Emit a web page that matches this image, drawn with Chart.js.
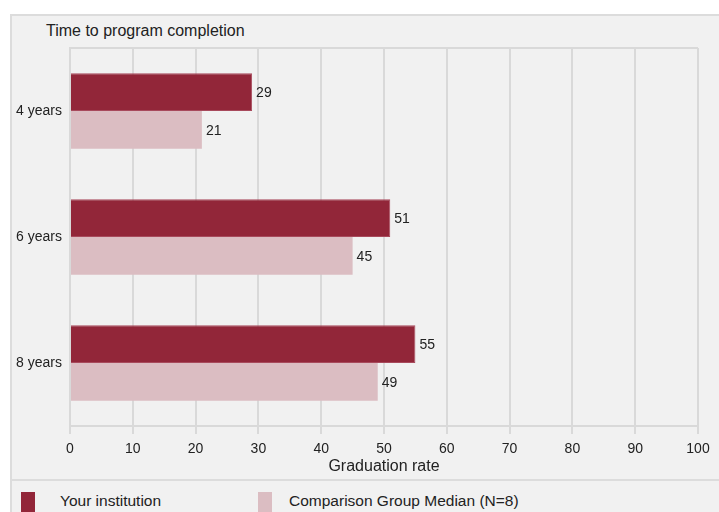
<!DOCTYPE html>
<html>
<head>
<meta charset="utf-8">
<script src="https://cdn.jsdelivr.net/npm/chart.js@4"></script>
<style>
  body { margin: 0; background: #fff; width: 719px; height: 512px; overflow: hidden; position: relative; font-family: "Liberation Sans", Arial, sans-serif; }
  #panel { position: absolute; left: 10px; top: 14px; width: 720px; height: 510px; background: #f1f1f1; border-left: 2px solid #dcdcdc; border-top: 2px solid #dcdcdc; }
  #sep { position: absolute; left: 10px; top: 479px; width: 720px; height: 2px; background: #dcdcdc; }
  #title { position: absolute; left: 46px; top: 22px; font-size: 16px; color: #222; }
  #chart-box { position: absolute; left: 0; top: 0; width: 719px; height: 480px; }
  .legend-item { position: absolute; top: 492px; font-family: "Liberation Sans Narrow", "Liberation Sans", Arial, sans-serif; font-size: 15.5px; color: #222; }
  .swatch { position: absolute; width: 14px; height: 22px; }
</style>
</head>
<body>
<div id="panel"></div>
<div id="sep"></div>
<div id="title">Time to program completion</div>
<div id="chart-box"><canvas id="chart" width="719" height="480"></canvas></div>
<div class="swatch" style="left:21px; top:492px; background:#922639;"></div>
<div class="legend-item" style="left:60px;">Your institution</div>
<div class="swatch" style="left:258px; top:492px; background:#dbbdc2;"></div>
<div class="legend-item" style="left:289px;">Comparison Group Median (N=8)</div>

<script>
const categories = ["4 years", "6 years", "8 years"];
const institution = [29, 51, 55];
const comparison = [21, 45, 49];
const series_labels = ["Your institution", "Comparison Group Median (N=8)"];
const x_axis_title = "Graduation rate";

const NARROW = "'Liberation Sans Narrow', 'Liberation Sans', Arial, sans-serif";
const REGULAR = "'Liberation Sans', Arial, sans-serif";
const GRID = "#d9d9d9";

// value labels at the end of each bar
const barLabels = {
  id: "barLabels",
  afterDatasetsDraw(chart) {
    const ctx = chart.ctx;
    ctx.save();
    ctx.font = "14px " + REGULAR;
    ctx.fillStyle = "#222";
    ctx.textBaseline = "middle";
    ctx.textAlign = "left";
    chart.data.datasets.forEach((ds, i) => {
      chart.getDatasetMeta(i).data.forEach((bar, j) => {
        ctx.fillText(ds.data[j], bar.x + 4, bar.y + 1);
      });
    });
    ctx.restore();
  },
};

// top border of the plot area
const topBorder = {
  id: "topBorder",
  beforeDatasetsDraw(chart) {
    const { ctx, chartArea } = chart;
    ctx.save();
    ctx.strokeStyle = GRID;
    ctx.lineWidth = 2;
    ctx.beginPath();
    ctx.moveTo(chartArea.left, chartArea.top);
    ctx.lineTo(chartArea.right, chartArea.top);
    ctx.stroke();
    ctx.restore();
  },
};

new Chart(document.getElementById("chart"), {
  type: "bar",
  data: {
    labels: categories,
    datasets: [
      {
        label: series_labels[0],
        data: institution,
        backgroundColor: "#922639",
        borderColor: "#a84a5c",
        borderWidth: 1,
        borderSkipped: "left",
        categoryPercentage: 0.6,
        barPercentage: 1,
      },
      {
        label: series_labels[1],
        data: comparison,
        backgroundColor: "#dbbdc2",
        borderWidth: 0,
        categoryPercentage: 0.6,
        barPercentage: 1,
      },
    ],
  },
  options: {
    indexAxis: "y",
    responsive: false,
    animation: false,
    layout: { padding: { top: 48, right: 21, left: 0, bottom: 0 } },
    plugins: {
      legend: { display: false },
      tooltip: { enabled: false },
      title: { display: false },
    },
    scales: {
      x: {
        min: 0,
        max: 100,
        ticks: {
          stepSize: 10,
          padding: 7,
          color: "#222",
          font: { family: NARROW, size: 14 },
        },
        grid: { color: GRID, lineWidth: 2, tickLength: 8 },
        border: { color: GRID, width: 2 },
        title: {
          display: true,
          text: x_axis_title,
          color: "#222",
          font: { family: NARROW, size: 16 },
          padding: { top: 0, bottom: 4 },
        },
        afterFit: (scale) => {
          scale.height = 54;
        },
      },
      y: {
        ticks: {
          padding: 8,
          color: "#222",
          font: { family: REGULAR, size: 14 },
        },
        grid: { display: false, drawTicks: false },
        border: { color: GRID, width: 2 },
        afterFit: (scale) => {
          scale.width = 70;
        },
      },
    },
  },
  plugins: [barLabels, topBorder],
});
</script>
</body>
</html>
